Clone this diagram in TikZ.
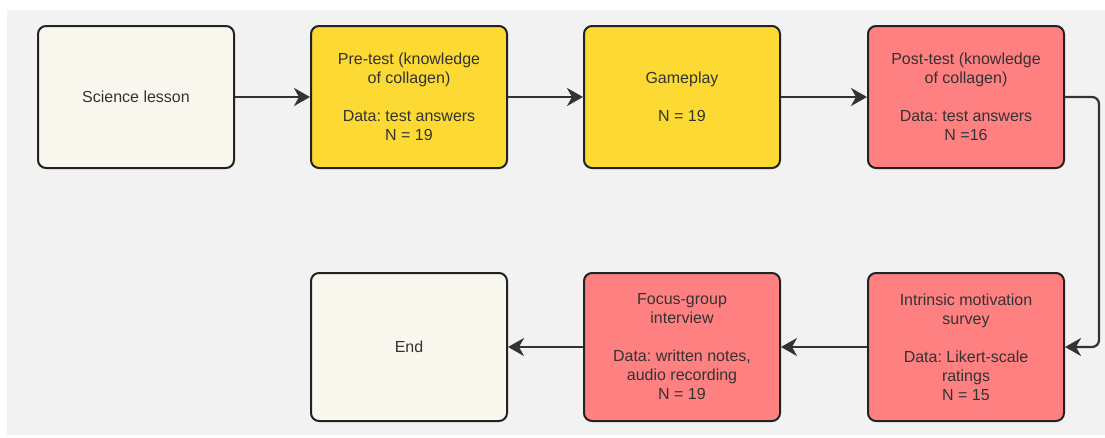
\documentclass[tikz,border=0pt]{standalone}
\usepackage{fontspec}
\setmainfont{Liberation Sans}
\frenchspacing
\usetikzlibrary{arrows.meta}
\definecolor{bgGrey}{HTML}{F2F2F2}
\definecolor{creamFill}{HTML}{FAF8EE}
\definecolor{yellowFill}{HTML}{FCD933}
\definecolor{redFill}{HTML}{FF8080}
\definecolor{edgeCol}{HTML}{222222}
\definecolor{txtCol}{HTML}{333333}
\definecolor{lineCol}{HTML}{333333}
\tikzset{
  box/.style={draw=edgeCol, line width=2pt, rounded corners=8pt, minimum width=196pt,
    align=center, text=txtCol, inner sep=0pt,
    font=\fontsize{16}{19}\selectfont},
  toprow/.style={minimum height=142pt},
  botrow/.style={minimum height=148pt},
  cream/.style={fill=creamFill},
  yel/.style={fill=yellowFill},
  red/.style={fill=redFill},
  conn/.style={draw=lineCol, line width=2.2pt, -{Stealth[length=16pt,width=18pt,inset=5pt]}}
}
\begin{document}
\begin{tikzpicture}[x=1pt,y=-1pt]
\useasboundingbox (0,0) rectangle (1105,437);
\fill[bgGrey] (7,10) rectangle (1105,435);
\node[box,toprow,cream] (sci) at (136,97) {Science lesson};
\node[box,toprow,yel] (pre) at (409,97) {Pre-test (knowledge\\of collagen)\\[19pt]Data: test answers\\N = 19};
\node[box,toprow,yel] (game) at (682,97) {Gameplay\\[19pt]N = 19};
\node[box,toprow,red] (post) at (966,97) {Post-test (knowledge\\of collagen)\\[19pt]Data: test answers\\N =16};
\node[box,botrow,red] (intr) at (966,347) {Intrinsic motivation\\survey\\[19pt]Data: Likert-scale\\ratings\\N = 15};
\node[box,botrow,red] (focus) at (682,347) {Focus-group\\interview\\[19pt]Data: written notes,\\audio recording\\N = 19};
\node[box,botrow,cream] (end) at (409,347) {End};
\coordinate (c1) at (1099,97);
\coordinate (c2) at (1099,347);
\draw[conn] (sci) -- (pre);
\draw[conn] (pre) -- (game);
\draw[conn] (game) -- (post);
\draw[conn, rounded corners=7pt] (post.east) -- (c1) -- (c2) -- (intr.east);
\draw[conn] (intr) -- (focus);
\draw[conn] (focus) -- (end);
\end{tikzpicture}
\end{document}
